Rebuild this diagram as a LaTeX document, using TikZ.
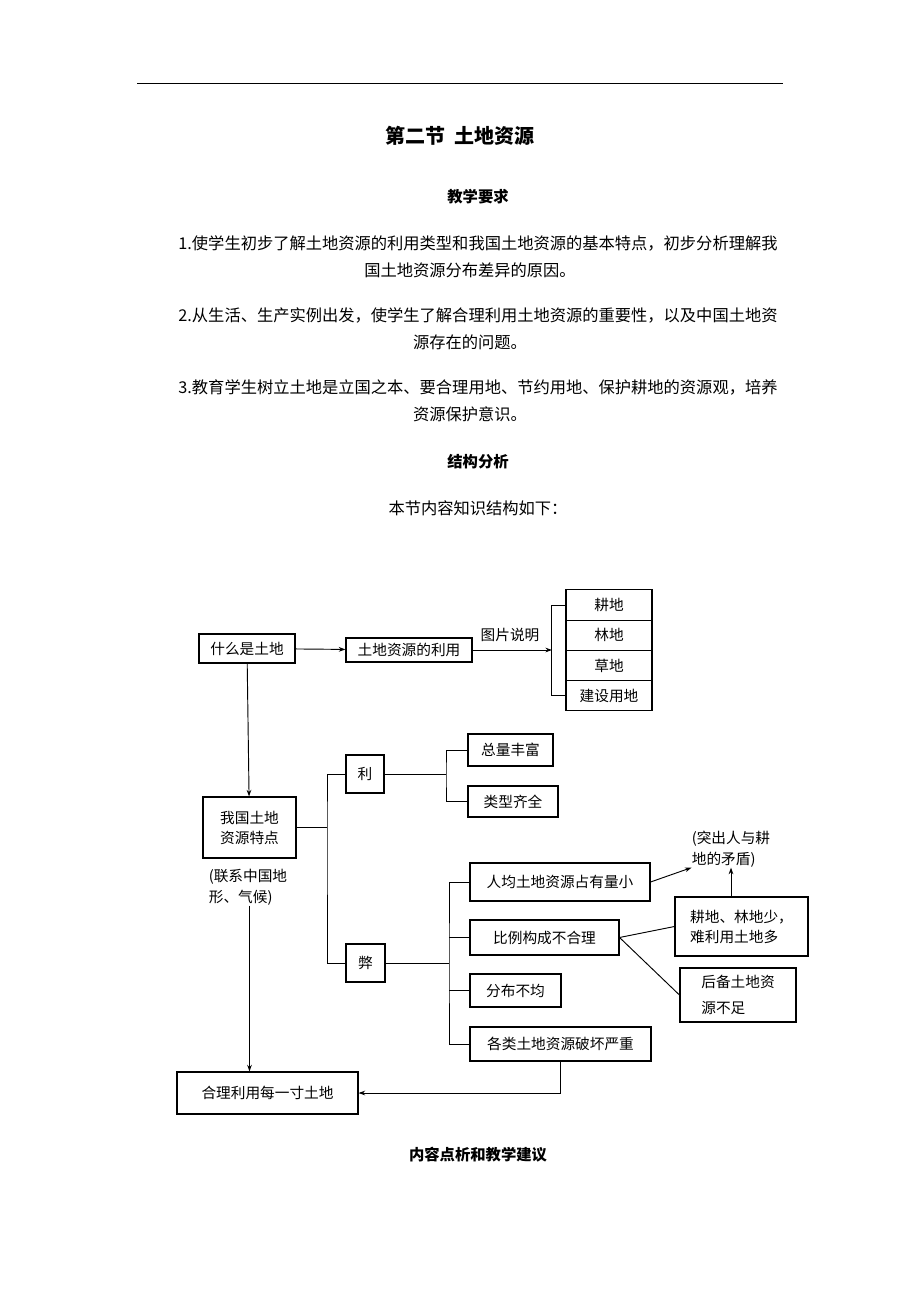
\documentclass[tikz,border=0pt]{standalone}
\usepackage{fontspec}
\setmainfont{Noto Sans CJK SC}
\usetikzlibrary{arrows.meta}
\begin{document}
\begin{tikzpicture}[x=0.75pt,y=-0.75pt,
  box/.style={draw,line width=0.8pt,inner sep=1pt,font=\fontsize{11pt}{15pt}\selectfont},
  para/.style={font=\fontsize{12.2pt}{14pt}\selectfont,inner sep=0pt},
  head/.style={font=\fontsize{11.5pt}{14pt}\selectfont\bfseries,inner sep=0pt},
  note/.style={align=left,font=\fontsize{11pt}{16pt}\selectfont,inner sep=0pt},
  ln/.style={line width=0.7pt},
  arr/.style={line width=0.7pt,-{Stealth[length=5pt,width=3.5pt]}}]
\useasboundingbox[fill=white] (0,0) rectangle (920,1302);
\coordinate (hl1) at (137,83); \coordinate (hl2) at (783,83);
\draw[line width=0.7pt] (hl1) -- (hl2);
\node[font=\fontsize{15pt}{18pt}\selectfont\bfseries] (title) at (460,136) {第二节\ \ 土地资源};
\node[head] (h1) at (478,197) {教学要求};
\node[para] (p1a) at (478,243) {1.使学生初步了解土地资源的利用类型和我国土地资源的基本特点，初步分析理解我};
\node[para] (p1b) at (470,270) {国土地资源分布差异的原因。};
\node[para] (p2a) at (478,315) {2.从生活、生产实例出发，使学生了解合理利用土地资源的重要性，以及中国土地资};
\node[para] (p2b) at (470,342) {源存在的问题。};
\node[para] (p3a) at (478,387) {3.教育学生树立土地是立国之本、要合理用地、节约用地、保护耕地的资源观，培养};
\node[para] (p3b) at (470,414) {资源保护意识。};
\node[head] (h2) at (478,462) {结构分析};
\node[para] (p4) at (478,508) {本节内容知识结构如下：};
\node[head] (h3) at (478,1155) {内容点析和教学建议};

% boxes
\node[box,minimum width=72pt,minimum height=21.75pt] (a) at (247,648.5) {什么是土地};
\node[box,minimum width=94.5pt,minimum height=18pt] (b) at (409,650) {土地资源的利用};
\node[box,minimum width=64.5pt,minimum height=22.7pt] (s1) at (609,605) {耕地};
\node[box,minimum width=64.5pt,minimum height=22.7pt] (s2) at (609,635.25) {林地};
\node[box,minimum width=64.5pt,minimum height=22.7pt] (s3) at (609,665.5) {草地};
\node[box,minimum width=64.5pt,minimum height=22.7pt] (s4) at (609,695.75) {建设用地};
\node[box,minimum width=69.75pt,minimum height=45.75pt,align=center] (c) at (249.5,827.5) {我国土地\\资源特点};
\node[box,minimum width=28.5pt,minimum height=28.5pt] (li) at (365,774) {利};
\node[box,minimum width=63.75pt,minimum height=24pt] (zl) at (510.5,750) {总量丰富};
\node[box,minimum width=67.5pt,minimum height=23.25pt] (lx) at (513,801.5) {类型齐全};
\node[box,minimum width=29.25pt,minimum height=28.5pt] (bi) at (365.5,963) {弊};
\node[box,minimum width=135pt,minimum height=28.5pt] (rj) at (560,882) {人均土地资源占有量小};
\node[box,minimum width=111.75pt,minimum height=26.25pt] (bl) at (544.5,937.5) {比例构成不合理};
\node[box,minimum width=68.25pt,minimum height=24.75pt] (fb) at (515.5,990.5) {分布不均};
\node[box,minimum width=135.75pt,minimum height=25.5pt] (gl) at (560.5,1044) {各类土地资源破坏严重};
\node[box,minimum width=99.75pt,minimum height=44.25pt,align=left] (gd) at (741.5,926.5) {耕地、林地少，\\难利用土地多};
\node[box,minimum width=87pt,minimum height=40.5pt,align=left,font=\fontsize{11pt}{19pt}\selectfont] (hb) at (738,995) {后备土地资\\源不足};
\node[box,minimum width=135.75pt,minimum height=31.5pt] (hl) at (267.5,1093) {合理利用每一寸土地};
\node[note] (tc) at (731,849) {(突出人与耕\\地的矛盾)};
\node[note] (lj) at (248,887) {(联系中国地\\形、气候)};
\node[font=\fontsize{11pt}{12pt}\selectfont,inner sep=0pt] (tp) at (510,635) {图片说明};

% connectors
\coordinate (br) at (552,650);
\draw[arr] (a) -- (b);
\draw[arr] (b.east) -- (br);
\draw[ln] (s1.west) -- ++(-14,0) |- (s4.west);
\draw[arr] (a) -- (c);
\coordinate (j1) at (327,827.5);
\draw[ln] (c.east) -- (j1);
\draw[ln] (li.west) -| (j1) |- (bi.west);
\coordinate (j2) at (446,774);
\draw[ln] (li.east) -- (j2);
\draw[ln] (zl.west) -| (j2) |- (lx.west);
\coordinate (j3) at (449,963);
\draw[ln] (bi.east) -- (j3);
\draw[ln] (rj.west) -| (j3) |- (gl.west);
\draw[ln] (bl.west) -- (bl.west -| j3);
\draw[ln] (fb.west) -- (fb.west -| j3);
\draw[arr] (rj.east) -- (tc.south west);
\draw[arr] (gd.north -| tc) -- (tc.south);
\draw[ln] (bl.east) -- (gd.west);
\draw[ln] (bl.east) -- (hb.west);
\draw[arr] (lj.south -| c) -- (c |- hl.north);
\draw[arr] (gl.south) |- (hl.east);
\end{tikzpicture}
\end{document}
